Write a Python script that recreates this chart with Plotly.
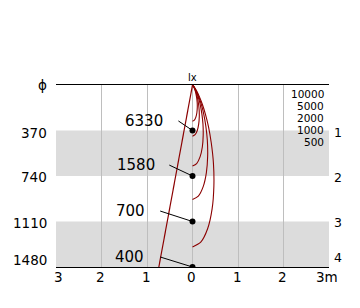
import plotly.graph_objects as go

# ---- data ----
distances = [1, 2, 3, 4]                      # m
beam_diam = [370, 740, 1110, 1480]            # mm (ϕ column)
center_lux = [6330, 1580, 700, 400]           # lx at centre
iso_levels = ["10000", "5000", "2000", "1000", "500"]
right_labels = ["1", "2", "3", "4"]

# isolux curves (x m to the right of axis, depth m)
iso_10000_x = [0, 0.041, 0.074, 0.096, 0.105, 0.103, 0.092, 0.078, 0.063, 0.049, 0.036, 0.021, 0.009, 0.003, 0]
iso_10000_y = [0.796, 0.773, 0.707, 0.609, 0.495, 0.384, 0.284, 0.204, 0.142, 0.096, 0.062, 0.029, 0.011, 0.003, 0]
iso_5000_x = [0, 0.057, 0.105, 0.136, 0.149, 0.146, 0.130, 0.111, 0.089, 0.069, 0.051, 0.029, 0.013, 0.005, 0]
iso_5000_y = [1.125, 1.092, 0.999, 0.861, 0.700, 0.543, 0.401, 0.289, 0.200, 0.135, 0.088, 0.042, 0.016, 0.005, 0]
iso_2000_x = [0, 0.091, 0.166, 0.216, 0.235, 0.230, 0.206, 0.175, 0.141, 0.109, 0.080, 0.046, 0.021, 0.007, 0]
iso_2000_y = [1.779, 1.727, 1.580, 1.362, 1.107, 0.859, 0.634, 0.457, 0.317, 0.214, 0.139, 0.066, 0.025, 0.007, 0]
iso_1000_x = [0, 0.128, 0.235, 0.305, 0.333, 0.326, 0.292, 0.248, 0.200, 0.154, 0.113, 0.065, 0.029, 0.011, 0]
iso_1000_y = [2.516, 2.442, 2.234, 1.926, 1.565, 1.215, 0.897, 0.646, 0.448, 0.303, 0.196, 0.093, 0.035, 0.011, 0]
iso_500_x = [0, 0.181, 0.332, 0.431, 0.470, 0.460, 0.412, 0.351, 0.282, 0.218, 0.160, 0.092, 0.041, 0.015, 0]
iso_500_y = [3.558, 3.454, 3.160, 2.724, 2.213, 1.718, 1.269, 0.913, 0.634, 0.428, 0.277, 0.131, 0.049, 0.015, 0]

curves = [(iso_10000_x, iso_10000_y), (iso_5000_x, iso_5000_y), (iso_2000_x, iso_2000_y),
          (iso_1000_x, iso_1000_y), (iso_500_x, iso_500_y)]

bands = [(1, 2), (3, 4)]
x_tick_vals = [-3, -2, -1, 0, 1, 2, 3]
x_tick_text = ["3", "2", "1", "0", "1", "2", "3m"]

# label / leader positions
label_x = [-0.60, -0.78, -1.00, -1.02]
label_y = [0.785, 1.76, 2.77, 3.77]
leader_x = [-0.31, -0.51, -0.71, -0.71]
leader_y = [0.79, 1.76, 2.77, 3.78]

left_label_y = [0, 1.05, 2.02, 3.03, 3.85]
left_label_text = ["ϕ"] + [str(v) for v in beam_diam]
right_label_y = [1.05, 2.04, 3.03, 3.8]
legend_y = [0.198, 0.462, 0.725, 0.989, 1.253]

RED = "#8B0000"
FONT = "DejaVu Sans"

fig = go.Figure()

# beam edge line (half of beam diameter)
fig.add_trace(go.Scatter(x=[0] + [-d / 2000 for d in beam_diam], y=[0] + distances,
                         mode="lines", line=dict(color=RED, width=1.2), hoverinfo="skip"))

for cx, cy in curves:
    fig.add_trace(go.Scatter(x=cx, y=cy, mode="lines",
                             line=dict(color=RED, width=1.1, shape="spline", smoothing=0.8),
                             hoverinfo="skip"))

# leader lines
for lx, ly, d in zip(leader_x, leader_y, distances):
    fig.add_trace(go.Scatter(x=[lx, 0], y=[ly, d], mode="lines",
                             line=dict(color="black", width=1), hoverinfo="skip"))

# centre dots
fig.add_trace(go.Scatter(x=[0] * len(distances), y=distances, mode="markers",
                         marker=dict(color="black", size=6), hoverinfo="skip"))

# invisible trace to carry the right-hand distance axis
fig.add_trace(go.Scatter(x=[0] * len(distances), y=distances, yaxis="y2", mode="markers",
                         marker=dict(opacity=0), hoverinfo="skip"))

for (y0, y1) in bands:
    fig.add_shape(type="rect", xref="x", yref="y", x0=-3, x1=3, y0=y0, y1=y1,
                  fillcolor="#dcdcdc", line=dict(width=0), layer="below")

ann = []
for t, x, y in zip(center_lux, label_x, label_y):
    ann.append(dict(x=x, y=y, xref="x", yref="y", text=str(t), showarrow=False,
                    xanchor="right", yanchor="middle", font=dict(size=15, family=FONT, color="black")))
for t, y in zip(left_label_text, left_label_y):
    ann.append(dict(x=-3, y=y, xref="x", yref="y", text=t, showarrow=False,
                    xanchor="right", yanchor="middle", xshift=-7,
                    font=dict(size=13.5, family=FONT, color="black")))
for i, (v, t) in enumerate(zip(x_tick_vals, x_tick_text)):
    xs = 2 if i == 0 else (-2 if i == len(x_tick_vals) - 1 else -1)
    ann.append(dict(x=v, y=4, xref="x", yref="y", text=t, showarrow=False,
                    xanchor="center", yanchor="middle", yshift=-10, xshift=xs,
                    font=dict(size=13.5, family=FONT, color="black")))
for t, y in zip(iso_levels, legend_y):
    ann.append(dict(x=2.94, y=y, xref="x", yref="y", text=t, showarrow=False,
                    xanchor="right", yanchor="middle",
                    font=dict(size=10.5, family=FONT, color="black")))
ann.append(dict(x=0, y=0, xref="x", yref="y", text="lx", showarrow=False,
                xanchor="center", yanchor="middle", yshift=8,
                font=dict(size=10, family=FONT, color="black")))

fig.update_layout(
    width=360, height=308,
    margin=dict(l=56, r=31, t=85, b=41),
    paper_bgcolor="white", plot_bgcolor="white",
    showlegend=False,
    annotations=ann,
    xaxis=dict(range=[-3, 3], tickvals=[-2, -1, 0, 1, 2], showticklabels=False,
               showgrid=True, gridcolor="#bebebe", gridwidth=1, zeroline=False,
               showline=True, mirror=True, linecolor="black", linewidth=1, ticks=""),
    yaxis=dict(range=[4, 0], showgrid=False, zeroline=False, showticklabels=False,
               showline=False, ticks=""),
    yaxis2=dict(range=[4, 0], overlaying="y", side="right", showgrid=False, zeroline=False,
                showline=False, ticks="", tickvals=right_label_y, ticktext=right_labels,
                ticklabelstandoff=4,
                tickfont=dict(size=12.5, family=FONT, color="black")),
)

fig.write_html("out.html")
